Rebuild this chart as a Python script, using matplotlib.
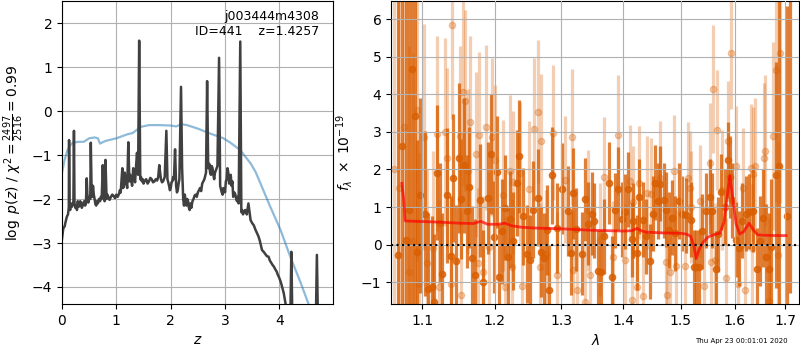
import matplotlib
matplotlib.use("Agg")
import matplotlib.pyplot as plt
from matplotlib.ticker import FixedLocator, NullLocator, FormatStrFormatter

# ---------------- left panel: log p(z) ----------------
pz_z = [0.00, 0.02, 0.03, 0.05, 0.06, 0.08, 0.09, 0.11, 0.125, 0.13, 0.14, 0.15, 0.16, 0.18,
        0.19, 0.21, 0.22, 0.23, 0.245, 0.26, 0.275, 0.29, 0.305, 0.32, 0.335, 0.35, 0.365,
        0.38, 0.395, 0.41, 0.425, 0.44, 0.455, 0.47, 0.485, 0.50, 0.52, 0.53, 0.545,
        0.56, 0.57, 0.585, 0.60, 0.615, 0.63, 0.645, 0.66, 0.68, 0.70, 0.715, 0.73, 0.75,
        0.77, 0.785, 0.80, 0.82, 0.835, 0.85, 0.875, 0.90, 0.925, 0.95, 0.975, 1.00,
        1.025, 1.05, 1.065, 1.08, 1.11, 1.125, 1.14, 1.155, 1.17, 1.185, 1.20, 1.22,
        1.24, 1.255, 1.27, 1.29, 1.31, 1.33, 1.345, 1.36, 1.38, 1.40, 1.42, 1.44, 1.455,
        1.47, 1.485, 1.50, 1.525, 1.55, 1.575, 1.60, 1.625, 1.65, 1.675, 1.70, 1.725,
        1.75, 1.77, 1.79, 1.82, 1.84, 1.86, 1.89, 1.92, 1.94, 1.955, 1.97, 1.985, 2.00,
        2.015, 2.03, 2.045, 2.06, 2.08, 2.10, 2.115, 2.13, 2.145, 2.16, 2.19, 2.21, 2.23,
        2.245, 2.26, 2.275, 2.29, 2.305, 2.32, 2.335, 2.35, 2.365, 2.38, 2.40, 2.42,
        2.44, 2.46, 2.48, 2.50, 2.52, 2.54, 2.56, 2.58, 2.60, 2.62, 2.65, 2.67, 2.69,
        2.71, 2.725, 2.74, 2.755, 2.77, 2.785, 2.80, 2.815, 2.83, 2.845, 2.86, 2.89,
        2.91, 2.925, 2.94, 2.955, 2.97, 2.985, 3.00, 3.015, 3.03, 3.045, 3.06, 3.075,
        3.09, 3.105, 3.12, 3.135, 3.15, 3.17, 3.19, 3.205, 3.22, 3.235, 3.25, 3.28,
        3.30, 3.315, 3.33, 3.35, 3.37, 3.40, 3.43, 3.45, 3.47, 3.50, 3.53, 3.56, 3.59,
        3.615, 3.64, 3.66, 3.68, 3.71, 3.74, 3.77, 3.80, 3.825, 3.85, 3.875, 3.90,
        3.925, 3.95, 3.97, 3.99, 4.015, 4.04, 4.06, 4.08, 4.13, 4.20, 4.22, 4.24,
        4.35, 4.50, 4.66, 4.69, 4.72, 4.95]
pz_logp = [-2.90, -2.70, -2.65, -2.62, -2.55, -2.45, -2.40, -2.35, -2.20, -0.66, -2.15, -2.25, -2.10, -2.18,
           -2.15, -2.05, -0.45, -2.10, -2.20, -2.15, -2.25, -2.05, -2.18, -2.15, -2.05, -2.10, -2.20,
           -2.15, -2.08, -2.05, -2.15, -2.10, -1.53, -2.00, -2.08, -1.95, -2.00, -0.72, -1.85,
           -1.95, -1.70, -1.90, -2.00, -2.12, -2.15, -2.05, -2.10, -2.00, -2.05, -1.95, -2.00, -1.23,
           -1.95, -2.05, -1.11, -2.00, -1.90, -1.95, -2.02, -1.95, -1.90, -1.93, -1.98, -1.90,
           -1.95, -1.88, -1.80, -1.85, -1.30, -1.75, -1.70, -1.40, -1.55, -1.65, -1.75, -0.71,
           -1.60, -1.45, -1.55, -1.70, -1.30, -1.55, -1.62, -1.30, -0.95, -1.45, 1.60, -1.55, -1.50,
           -1.60, -1.55, -1.65, -1.58, -1.55, -1.65, -1.60, -1.52, -1.55, -1.62, -1.60, -1.55,
           -1.58, -1.50, -1.23, -1.55, -1.62, -1.60, -1.50, -0.45, -1.55, -1.62, -1.70, -1.80, -1.75,
           -1.62, -1.60, -1.50, -1.55, -0.87, -1.70, -1.85, -1.80, -1.65, -1.55, 0.55, -1.30, -2.00,
           -2.15, -1.90, -2.05, -2.15, -2.00, -2.05, -2.20, -2.25, -2.10, -2.20, -2.05, -2.00,
           -1.92, -1.90, -1.95, -1.85, -1.80, -1.75, -1.82, -1.65, -1.60, -1.55, -1.40, 0.68, -1.30,
           -1.20, -1.40, -1.45, -1.25, -1.30, -1.45, -1.55, -1.40, -1.35, -1.30, -1.25, 1.21,
           -1.70, -1.78, -1.85, -1.90, -1.75, -1.80, -1.85, -1.60, -1.55, -1.30, -1.40, -1.65,
           -1.55, -1.45, -1.70, -1.60, -1.95, -1.85, -1.90, -2.00, -2.05, -1.95, -2.10, 1.58,
           -2.30, -2.25, -2.35, -2.30, -2.25, -2.35, -2.10, -2.30, -2.48, -2.55, -2.60, -2.70, -2.78,
           -2.85, -2.95, -3.05, -3.16, -3.20, -3.25, -3.30, -3.31, -3.40, -3.45, -3.50, -3.54,
           -3.60, -3.65, -3.72, -3.77, -3.85, -3.95, -4.05, -4.14, -4.50, -4.80, -3.20, -4.90,
           -5.20, -5.50, -5.60, -3.27, -5.60, -6.00]

prior_z = [0.00, 0.05, 0.10, 0.15, 0.20, 0.30, 0.40, 0.50, 0.60, 0.66, 0.70, 0.80, 1.00, 1.20,
           1.30, 1.45, 1.60, 1.80, 2.00, 2.10, 2.20, 2.30, 2.50, 2.70, 2.97, 3.10, 3.28, 3.47,
           3.56, 3.65, 3.83, 4.02, 4.20, 4.39, 4.54, 4.70]
prior_logp = [-1.40, -1.10, -0.89, -0.78, -0.72, -0.70, -0.70, -0.62, -0.60, -0.62, -0.74, -0.68,
              -0.62, -0.53, -0.50, -0.36, -0.32, -0.32, -0.33, -0.35, -0.30, -0.32, -0.40, -0.50,
              -0.62, -0.72, -0.89, -1.19, -1.38, -1.64, -2.17, -2.70, -3.31, -3.90, -4.40, -4.90]

# ---------------- right panel: spectrum ----------------
d_lam = [1.0689, 1.0732, 1.0796, 1.0829, 1.0868, 1.0904, 1.0934, 1.0974, 1.1040, 1.1083,
         1.1128, 1.1159, 1.1195, 1.1240, 1.1271, 1.1339, 1.1386, 1.1422, 1.1459, 1.1491,
         1.1532, 1.1569, 1.1615, 1.1637, 1.1683, 1.1720, 1.1791, 1.1838, 1.1909, 1.1947,
         1.1990, 1.2038, 1.2067, 1.2111, 1.2150, 1.2189, 1.2222, 1.2270, 1.2320, 1.2359,
         1.2418, 1.2478, 1.2519, 1.2569, 1.2644, 1.2685, 1.2735, 1.2781, 1.2811, 1.2848,
         1.2926, 1.3013, 1.3107, 1.3144, 1.3186, 1.3228, 1.3318, 1.3371, 1.3424, 1.3478,
         1.3516, 1.3586, 1.3630, 1.3679, 1.3767, 1.3816, 1.3861, 1.3915, 1.3972, 1.4028,
         1.4084, 1.4141, 1.4168, 1.4226, 1.4270, 1.4328, 1.4385, 1.4454, 1.4501, 1.4540,
         1.4598, 1.4640, 1.4704, 1.4746, 1.4792, 1.4845, 1.4905, 1.4970, 1.5030, 1.5090,
         1.5194, 1.5242, 1.5285, 1.5333, 1.5394, 1.5456, 1.5530, 1.5580, 1.5655, 1.5686,
         1.5750, 1.5810, 1.5874, 1.5920, 1.5960, 1.6020, 1.6085, 1.6150, 1.6214, 1.6280,
         1.6350, 1.6430, 1.6490, 1.6555, 1.6620, 1.6670, 1.6720, 1.6820, 1.6868, 1.7040,
         1.7106]
d_flux = [-0.27, 2.62, 0.13, 0.93, 4.66, 3.41, -0.21, 1.31, 0.82, -1.17,
          -1.14, -1.53, 1.91, 0.58, -0.77, 1.31, -0.30, 1.78, -0.44, 2.31,
          1.22, 2.11, 0.89, 1.52, -0.37, -0.82, 1.18, -1.00, 1.24, 2.42,
          0.20, 1.93, -0.86, 0.35, 0.98, -0.33, 0.67, 0.10, 1.64, 2.35,
          0.75, -0.25, -0.40, 0.93, 1.25, -0.20, -0.37, 0.38, -1.22, 1.84,
          0.45, 1.49, 0.89, -0.23, 1.36, 0.41, -0.24, 1.20, 0.56, 0.82,
          0.63, -0.70, -0.72, 0.22, 1.64, -0.87, 0.91, 1.49, 0.67, 0.87,
          1.47, 0.14, 0.63, -0.22, 1.27, 0.66, 0.22, -0.44, 0.82, 1.65,
          1.16, 1.62, 1.18, 0.93, 0.39, 0.71, 0.30, 1.16, 0.82, 0.78,
          0.66, -0.60, -0.60, -0.60, 0.35, 0.90, 1.27, 0.90, -0.65, 0.27,
          1.40, 1.00, 2.25, 1.80, 1.18, 0.13, -0.10, 0.63, 0.82, 0.87,
          0.90, -0.65, 0.10, 0.70, -0.33, -0.65, -0.06, 1.85, 2.10, 0.75,
          7.00]
d_err = [9.0, 9.0, 9.0, 8.0, 7.0, 5.0, 3.0, 2.6, 2.2, 2.0,
         1.9, 1.8, 1.8, 1.6, 1.6, 1.8, 1.6, 1.7, 1.5, 2.0,
         1.6, 1.8, 1.5, 1.6, 1.4, 1.5, 1.5, 1.4, 1.5, 1.6,
         1.5, 1.5, 1.4, 1.4, 1.4, 1.3, 1.3, 1.3, 1.4, 1.5,
         1.3, 1.3, 1.2, 1.3, 1.3, 1.2, 1.2, 1.2, 1.2, 1.3,
         1.2, 1.2, 1.2, 1.1, 1.2, 1.1, 1.1, 1.1, 1.1, 1.1,
         1.0, 1.1, 1.1, 1.0, 1.1, 1.1, 1.0, 1.1, 1.0, 1.0,
         1.0, 1.0, 1.0, 1.0, 1.0, 1.0, 1.0, 1.0, 1.0, 1.0,
         1.0, 1.0, 1.0, 1.0, 1.0, 1.0, 1.0, 1.0, 1.0, 1.0,
         1.0, 1.0, 1.0, 1.0, 1.0, 1.0, 1.0, 1.0, 1.0, 1.0,
         1.0, 1.0, 1.0, 1.1, 1.0, 1.0, 1.0, 1.0, 1.0, 1.0,
         1.1, 1.1, 1.2, 1.3, 1.4, 1.5, 1.8, 3.0, 4.5, 5.6,
         8.3]

l_lam = [1.0640, 1.0700, 1.0770, 1.0830, 1.0880, 1.0930, 1.0955, 1.1020, 1.1060, 1.1150,
         1.1200, 1.1230, 1.1310, 1.1340, 1.1390, 1.1400, 1.1510, 1.1520, 1.1550, 1.1580,
         1.1627, 1.1651, 1.1734, 1.1760, 1.1780, 1.1838, 1.1876, 1.1920, 1.1957, 1.2004,
         1.2126, 1.2150, 1.2222, 1.2247, 1.2270, 1.2369, 1.2394, 1.2508, 1.2583, 1.2644,
         1.2669, 1.2680, 1.2760, 1.2863, 1.2926, 1.3060, 1.3170, 1.3186, 1.3240, 1.3370,
         1.3420, 1.3460, 1.3614, 1.3680, 1.3830, 1.3915, 1.4030, 1.4112, 1.4141, 1.4168,
         1.4226, 1.4270, 1.4340, 1.4400, 1.4480, 1.4628, 1.4734, 1.4760, 1.4804, 1.4875,
         1.4923, 1.5072, 1.5130, 1.5170, 1.5194, 1.5360, 1.5419, 1.5530, 1.5561, 1.5590,
         1.5623, 1.5667, 1.5770, 1.5843, 1.5874, 1.5936, 1.6020, 1.6060, 1.6160, 1.6200,
         1.6310, 1.6330, 1.6360, 1.6400, 1.6570, 1.6600, 1.6670, 1.6754, 1.6820, 1.6850,
         1.6888]
l_flux = [2.00, 1.50, 3.13, -0.72, 0.10, 3.57, -1.05, 2.86, -0.50, -0.10,
          2.95, -1.12, 3.00, 2.30, -1.05, 5.83, 2.89, -1.33, 4.07, 3.83,
          1.95, 3.25, 2.40, -0.50, 2.92, -0.72, 3.12, -0.06, 2.86, 2.25,
          1.31, -1.14, 1.97, -0.60, 1.66, 1.90, -1.10, 1.49, 3.07, 3.54,
          -0.60, 2.75, -0.24, 2.98, -0.82, 1.73, 2.86, -0.67, -1.20, -1.53,
          0.91, -0.82, 0.13, 1.79, -0.33, 2.92, -0.42, 1.69, -1.47, 1.13,
          -1.14, 1.65, -1.37, 1.38, 1.34, 1.78, -0.46, -1.33, -0.72, 1.96,
          -0.58, -0.58, 1.76, 1.51, 1.00, 1.16, -1.10, 2.16, -0.46, 4.14,
          -0.40, 3.05, 1.45, -0.90, 2.75, 5.10, 2.10, -1.05, 1.50, -1.20,
          2.05, -0.10, 1.87, 2.10, 2.30, 2.50, -1.50, 2.88, 4.64, -0.28,
          5.10]
l_err = [9.0, 9.0, 8.0, 6.0, 5.0, 4.0, 3.5, 3.0, 2.5, 2.6,
         2.6, 2.3, 2.5, 2.4, 2.3, 2.5, 2.4, 2.2, 2.5, 2.4,
         2.2, 2.3, 2.2, 2.0, 2.2, 2.0, 2.2, 2.0, 2.1, 2.0,
         2.0, 1.9, 2.0, 1.8, 1.9, 1.9, 1.8, 1.8, 1.9, 1.9,
         1.7, 1.8, 1.7, 1.8, 1.7, 1.7, 1.8, 1.6, 1.6, 1.6,
         1.6, 1.6, 1.5, 1.6, 1.5, 1.6, 1.5, 1.5, 1.5, 1.5,
         1.5, 1.5, 1.5, 1.5, 1.5, 1.5, 1.5, 1.5, 1.5, 1.5,
         1.5, 1.5, 1.5, 1.5, 1.5, 1.5, 1.5, 1.6, 1.5, 1.7,
         1.5, 1.6, 1.6, 1.6, 1.6, 1.5, 1.6, 1.6, 1.6, 1.7,
         1.7, 1.7, 1.8, 1.8, 2.0, 2.0, 2.2, 2.5, 3.5, 3.0,
         4.0]

m_lam = [1.0736, 1.0760, 1.0780, 1.0900, 1.1200, 1.1500, 1.1700, 1.1800, 1.1900, 1.2050,
         1.2150, 1.2250, 1.2400, 1.2600, 1.3000, 1.3500, 1.4000, 1.4150, 1.4230, 1.4320,
         1.4400, 1.4700, 1.5000, 1.5100, 1.5180, 1.5240, 1.5280, 1.5330, 1.5400, 1.5500,
         1.5620, 1.5720, 1.5800, 1.5860, 1.5910, 1.5960, 1.6030, 1.6100, 1.6180, 1.6280,
         1.6360, 1.6450, 1.6550, 1.6800, 1.7020]
m_flux = [1.63, 1.20, 0.63, 0.62, 0.60, 0.57, 0.56, 0.62, 0.54, 0.54,
          0.57, 0.50, 0.46, 0.44, 0.42, 0.38, 0.36, 0.37, 0.43, 0.36,
          0.33, 0.31, 0.30, 0.28, 0.22, -0.05, -0.37, -0.15, 0.05, 0.20,
          0.27, 0.30, 0.60, 1.30, 1.83, 1.30, 0.55, 0.28, 0.35, 0.57,
          0.40, 0.26, 0.25, 0.24, 0.24]

lam_ticks = [1.1, 1.2, 1.3, 1.4, 1.5, 1.6, 1.7]

fig = plt.figure(figsize=(8, 3.5), dpi=100)
ax1 = fig.add_axes([0.0775, 0.131, 0.339, 0.866])
ax2 = fig.add_axes([0.489, 0.131, 0.510, 0.866])

# left
ax1.plot(prior_z, prior_logp, color='tab:blue', alpha=0.5, lw=1.6)
ax1.plot(pz_z, pz_logp, color='0.25', lw=1.8)
ax1.set_xlim(0, 4.99)
ax1.set_ylim(-4.39, 2.5)
ax1.set_xticks([0, 1, 2, 3, 4])
ax1.set_yticks([-4, -3, -2, -1, 0, 1, 2])
ax1.grid(True)
ax1.set_xlabel(r'$z$')
ax1.set_ylabel(r'$\log\ p(z)$ / $\chi^2=\frac{2497}{2516}=0.99$')
ax1.text(0.95, 0.97, 'j003444m4308\nID=441    z=1.4257', ha='right', va='top',
         transform=ax1.transAxes, fontsize=9)

# right
col = '#d95f02'
ax2.errorbar(l_lam, l_flux, yerr=l_err, color=col, alpha=0.3, marker='o', ms=4.5,
             linestyle='None', elinewidth=2.3, capsize=0, zorder=1)
ax2.errorbar(d_lam, d_flux, yerr=d_err, color=col, alpha=0.8, marker='o', ms=4.5,
             linestyle='None', elinewidth=2.3, capsize=0, zorder=2)
ax2.plot(m_lam, m_flux, color='r', alpha=0.7, lw=2, zorder=3)
ax2.axhline(0, color='k', linestyle=':', lw=1.5, zorder=4)
ax2.set_xscale('log')
ax2.set_xlim(1.06, 1.729)
ax2.set_ylim(-1.585, 6.48)
ax2.xaxis.set_major_locator(FixedLocator(lam_ticks))
ax2.xaxis.set_minor_locator(NullLocator())
ax2.xaxis.set_major_formatter(FormatStrFormatter('%.1f'))
ax2.set_yticks([-1, 0, 1, 2, 3, 4, 5, 6])
ax2.grid(True, zorder=5)
ax2.set_axisbelow(False)
ax2.set_xlabel(r'$\lambda$')
ax2.set_ylabel(r'$f_\lambda\ \times\ 10^{-19}$')

fig.text(0.985, 0.018, 'Thu Apr 23 00:01:01 2020', ha='right', va='bottom', fontsize=5)

fig.savefig('out.png', dpi=100)
